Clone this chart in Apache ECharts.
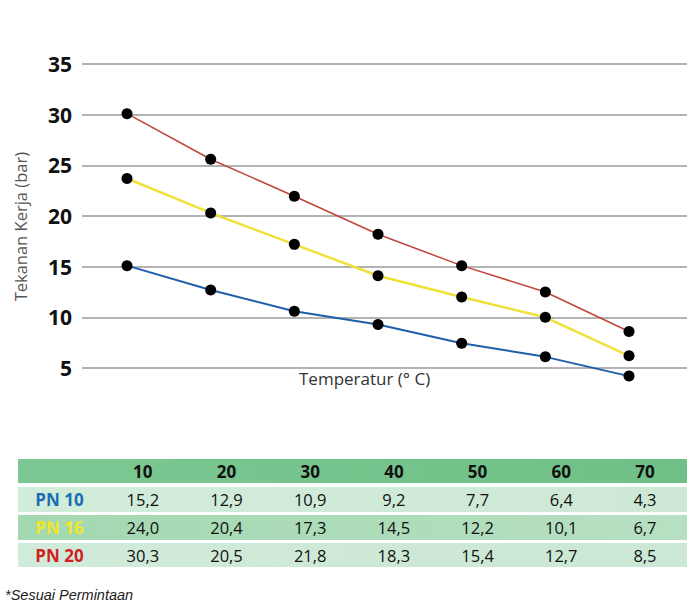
<!DOCTYPE html>
<html>
<head>
<meta charset="utf-8">
<script src="https://cdn.jsdelivr.net/npm/echarts@6/dist/echarts.min.js"></script>
<style>
  html, body { margin: 0; padding: 0; background: #fff; }
  #wrap { position: relative; width: 700px; height: 612px; overflow: hidden; }
  #chart { position: absolute; left: 0; top: 0; width: 700px; height: 440px; }
  .trow { position: absolute; left: 18px; width: 669px; display: flex; align-items: center;
          font-family: "Open Sans", "Noto Sans", sans-serif; font-size: 16.5px; color: #111; }
  .trow div { text-align: center; }
  .c0 { width: 83px; font-weight: bold; font-size: 17px; }
  .cv { width: 83.7px; }
  #note { position: absolute; left: 5px; top: 587px; font-family: "Liberation Sans", Arial, sans-serif;
          font-style: italic; font-size: 14.5px; color: #222; }
</style>
</head>
<body>
<div id="wrap">
  <div id="chart"></div>
  <div id="table"></div>
  <div id="note">*Sesuai Permintaan</div>
</div>
<script>
// ---- data ----
const temperatures = [10, 20, 30, 40, 50, 60, 70];
const pn10Plot = [15.1, 12.7, 10.6, 9.3, 7.45, 6.1, 4.2];
const pn16Plot = [23.7, 20.3, 17.2, 14.1, 12.0, 10.0, 6.2];
const pn20Plot = [30.1, 25.6, 21.95, 18.2, 15.1, 12.5, 8.6];
const yTicks = [5, 10, 15, 20, 25, 30, 35];

// table values (as printed)
const tableHeader = ['10', '20', '30', '40', '50', '60', '70'];
const rowLabels = ['PN 10', 'PN 16', 'PN 20'];
const pn10Table = ['15,2', '12,9', '10,9', '9,2', '7,7', '6,4', '4,3'];
const pn16Table = ['24,0', '20,4', '17,3', '14,5', '12,2', '10,1', '6,7'];
const pn20Table = ['30,3', '20,5', '21,8', '18,3', '15,4', '12,7', '8,5'];

const seriesColors = ['#1f5ea8', '#f0e13a', '#c0453a'];
const labelColors = ['#1d6db3', '#f3e62a', '#d31f1f'];

const pairs = arr => temperatures.map((t, i) => [t, arr[i]]);

const chart = echarts.init(document.getElementById('chart'), null, { renderer: 'svg' });
const mkSeries = (data, color, width) => ({
  type: 'line',
  data: pairs(data),
  clip: false,
  symbol: 'circle',
  symbolSize: 11,
  itemStyle: { color: '#000' },
  lineStyle: { color: color, width: width },
  z: 3
});
chart.setOption({
  animation: false,
  grid: { left: 82, right: 13, top: 64, height: 304 },
  xAxis: {
    type: 'value', min: 4.62, max: 76.93,
    axisLine: { show: false }, axisTick: { show: false }, axisLabel: { show: false },
    splitLine: { show: false }
  },
  yAxis: {
    type: 'value', min: yTicks[0], max: yTicks[yTicks.length - 1], interval: 5,
    axisLine: { show: false }, axisTick: { show: false },
    axisLabel: { margin: 10, fontFamily: 'Open Sans', fontWeight: 'bold', fontSize: 21, color: '#111' },
    splitLine: { lineStyle: { color: '#9a9a9a', width: 1.5 } }
  },
  graphic: [
    { type: 'text', left: 12, top: 152, rotation: Math.PI / 2,
      style: { text: 'Tekanan Kerja (bar)', fill: '#555', font: '16.5px "Open Sans"' } },
    { type: 'text', left: 299, top: 370,
      style: { text: 'Temperatur (° C)', fill: '#333', font: '17px "Open Sans"' } }
  ],
  series: [
    mkSeries(pn20Plot, seriesColors[2], 1.5),
    mkSeries(pn16Plot, seriesColors[1], 2.5),
    mkSeries(pn10Plot, seriesColors[0], 2)
  ]
});

// ---- table ----
const tbl = document.getElementById('table');
const rows = [
  { top: 459, h: 24, bg: 'linear-gradient(90deg,#7cc892,#6fc087)', label: '', labelColor: '#000', cells: tableHeader, bold: true },
  { top: 487, h: 25, bg: 'linear-gradient(90deg,#d2ecda,#cde9d6)', label: rowLabels[0], labelColor: labelColors[0], cells: pn10Table },
  { top: 515, h: 25, bg: 'linear-gradient(90deg,#a3d8b1,#b7e0c2)', label: rowLabels[1], labelColor: labelColors[1], cells: pn16Table },
  { top: 543, h: 24, bg: 'linear-gradient(90deg,#d0ebd9,#cbe8d4)', label: rowLabels[2], labelColor: labelColors[2], cells: pn20Table }
];
rows.forEach(r => {
  const d = document.createElement('div');
  d.className = 'trow';
  d.style.top = r.top + 'px';
  d.style.height = r.h + 'px';
  d.style.background = r.bg;
  const l = document.createElement('div');
  l.className = 'c0';
  l.style.color = r.labelColor;
  l.textContent = r.label;
  d.appendChild(l);
  r.cells.forEach(c => {
    const e = document.createElement('div');
    e.className = 'cv';
    if (r.bold) { e.style.fontWeight = 'bold'; e.style.fontSize = '17px'; }
    e.textContent = c;
    d.appendChild(e);
  });
  tbl.appendChild(d);
});
</script>
</body>
</html>
